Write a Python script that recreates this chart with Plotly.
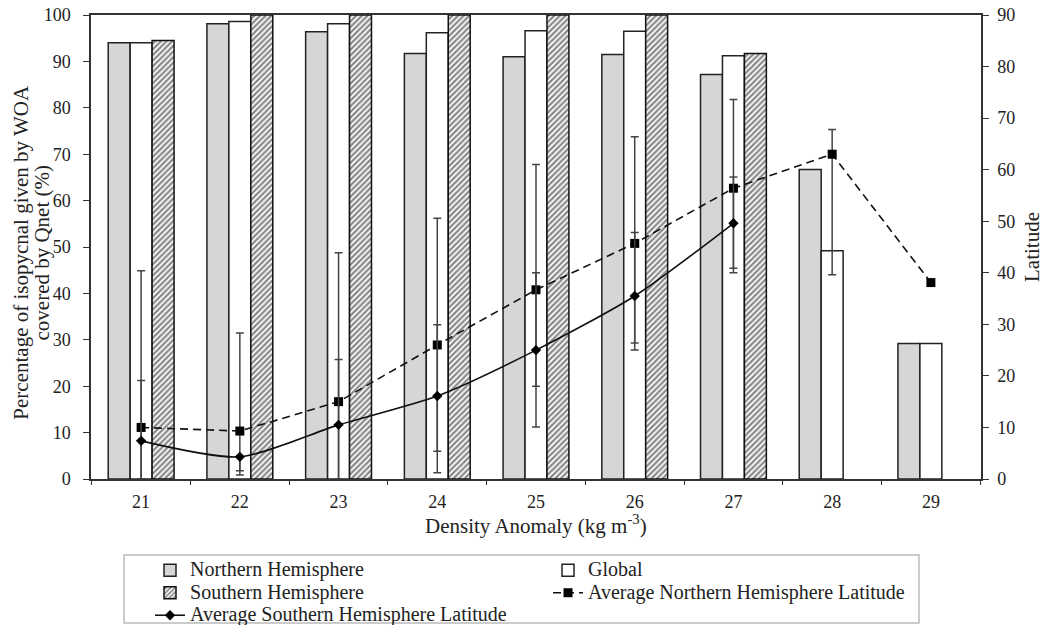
import plotly.graph_objects as go

categories = ["21", "22", "23", "24", "25", "26", "27", "28", "29"]

# Percentage coverage (left axis)
nh_pct = [94.0, 98.1, 96.4, 91.7, 91.0, 91.5, 87.2, 66.7, 29.2]
global_pct = [94.0, 98.6, 98.1, 96.2, 96.6, 96.5, 91.2, 49.2, 29.2]
sh_pct = [94.5, 100, 100, 100, 100, 100, 91.7, None, None]

# Average latitudes (right axis) and error-bar cap values
nh_lat = [10.0, 9.3, 15.0, 26.0, 36.7, 45.7, 56.4, 63.0, 38.1]
nh_lat_hi = [40.4, 28.3, 43.9, 50.6, 61.0, 66.4, 73.6, 67.8, None]
nh_lat_lo = [0.0, 0.8, 0.0, 1.2, 18.0, 25.0, 40.0, 39.6, None]

sh_lat = [7.4, 4.3, 10.5, 16.1, 25.0, 35.5, 49.6, None, None]
sh_lat_hi = [19.1, 4.3, 23.2, 29.9, 40.0, 47.8, 58.6, None, None]
sh_lat_lo = [0.0, 1.6, 0.0, 5.4, 10.1, 26.4, 40.9, None, None]


def err_up(v, hi):
    return [(h - a) if (a is not None and h is not None) else None for a, h in zip(v, hi)]


def err_dn(v, lo):
    return [(a - l) if (a is not None and l is not None) else None for a, l in zip(v, lo)]


def big(t, px=20):
    return f'<span style="font-size:{px}px">{t}</span>'


FONT = "Liberation Serif, Times New Roman, serif"
AX = "#333333"

fig = go.Figure()

fig.add_trace(go.Bar(
    x=categories, y=nh_pct, name=big("Northern Hemisphere"), legend="legend",
    marker=dict(color="#d6d6d6", line=dict(color="#222222", width=1.5)),
))
fig.add_trace(go.Bar(
    x=categories, y=global_pct, name=big("Global"), legend="legend2",
    marker=dict(color="white", line=dict(color="#222222", width=1.5)),
))
fig.add_trace(go.Bar(
    x=categories, y=sh_pct, name=big("Southern Hemisphere"), legend="legend",
    marker=dict(color="white", line=dict(color="#111111", width=1.5),
                pattern=dict(shape="/", fgcolor="#111111", bgcolor="white",
                             size=4, solidity=0.55)),
))

fig.add_trace(go.Scatter(
    x=categories, y=nh_lat, yaxis="y2", name=big("Average Northern Hemisphere Latitude"),
    legend="legend2", mode="lines+markers",
    line=dict(color="#111111", width=1.6, dash="8px,5px"),
    marker=dict(symbol="square", size=9, color="#000000"),
    error_y=dict(type="data", symmetric=False, array=err_up(nh_lat, nh_lat_hi),
                 arrayminus=err_dn(nh_lat, nh_lat_lo), color="#444444",
                 thickness=1.5, width=4),
))
fig.add_trace(go.Scatter(
    x=categories, y=sh_lat, yaxis="y2", name=big("Average Southern Hemisphere Latitude"),
    legend="legend", mode="lines+markers",
    line=dict(color="#111111", width=1.6, shape="spline", smoothing=0.7),
    marker=dict(symbol="diamond", size=8, color="#000000"),
    error_y=dict(type="data", symmetric=False, array=err_up(sh_lat, sh_lat_hi),
                 arrayminus=err_dn(sh_lat, sh_lat_lo), color="#444444",
                 thickness=1.5, width=4),
))

fig.update_layout(
    width=1044, height=625,
    margin=dict(l=91, r=63, t=15, b=146, autoexpand=False),
    paper_bgcolor="white", plot_bgcolor="white",
    font=dict(family=FONT, color="#222222", size=18),
    barmode="group", bargap=0.333, bargroupgap=0,
    xaxis=dict(
        type="category", tickson="boundaries", ticks="outside", ticklen=4,
        tickcolor=AX, showline=True, linecolor=AX, linewidth=1.5, mirror=True,
        showgrid=False, tickfont=dict(size=18), ticklabelstandoff=6,
    ),
    yaxis=dict(
        range=[0, 100], dtick=10, ticks="outside", ticklen=6, tickcolor=AX,
        showline=True, linecolor=AX, linewidth=1.5, showgrid=False, zeroline=False,
        tickfont=dict(size=18), ticklabelstandoff=9,
    ),
    yaxis2=dict(
        range=[0, 90], dtick=10, overlaying="y", side="right", ticks="outside",
        ticklen=6, tickcolor=AX, showline=True, linecolor=AX, linewidth=1.5,
        showgrid=False, zeroline=False, tickfont=dict(size=18), ticklabelstandoff=5,
        title=dict(text="Latitude", font=dict(size=21), standoff=12),
    ),
    legend=dict(
        x=0.0663, y=-0.1616, xanchor="left", yanchor="top", orientation="v",
        bgcolor="rgba(0,0,0,0)", borderwidth=0, font=dict(size=15, family=FONT),
        tracegroupgap=0,
    ),
    legend2=dict(
        x=0.5135, y=-0.1616, xanchor="left", yanchor="top", orientation="v",
        bgcolor="rgba(0,0,0,0)", borderwidth=0, font=dict(size=15, family=FONT),
        tracegroupgap=0,
    ),
    shapes=[dict(type="rect", xref="paper", yref="paper",
                 x0=0.0371, x1=0.9303, y0=-0.1638, y1=-0.3103,
                 line=dict(color="#bbbbbb", width=1.5), fillcolor="rgba(0,0,0,0)",
                 layer="below")],
    annotations=[
        dict(
            text=big("Percentage of isopycnal given by WOA", 21) + "<br>" + big("covered by Qnet (%)", 21),
            xref="paper", yref="paper", x=-0.0663, y=0.49, xanchor="center", yanchor="middle",
            textangle=-90, showarrow=False, font=dict(size=16, family=FONT, color="#222222"),
        ),
        dict(
            text="Density Anomaly (kg m<sup>-3</sup>)",
            xref="paper", yref="paper", x=0.5, y=-0.097, xanchor="center", yanchor="middle",
            showarrow=False, font=dict(size=21, family=FONT, color="#222222"),
        ),
    ],
)

fig.write_html("out.html")
